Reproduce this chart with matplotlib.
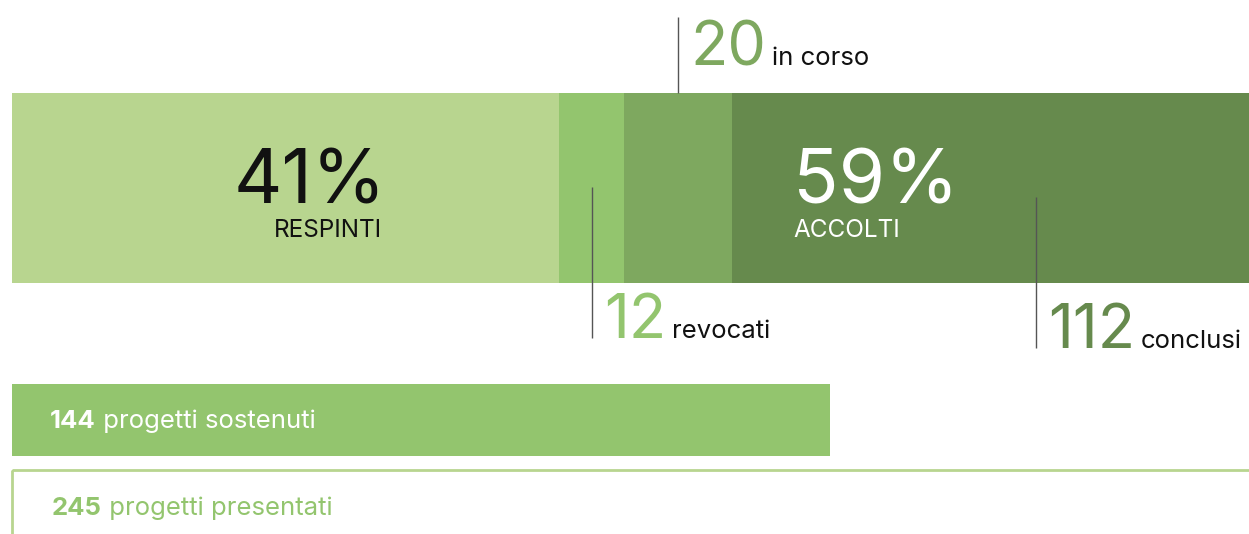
import matplotlib
matplotlib.use("Agg")
import matplotlib.pyplot as plt

plt.rcParams['font.family'] = ['Inter', 'DejaVu Sans']

# progetti per esito
esiti = ["respinti", "revocati", "in corso", "conclusi"]
valori = [101, 12, 20, 112]
colori = ["#b8d58f", "#93c56e", "#7ea85f", "#668a4d"]

presentati = 245
sostenuti = 144

W, H = 1249, 534
fig = plt.figure(figsize=(W / 100, H / 100), dpi=100)

# barra in percentuale (asse superiore), y in pixel
sc = 100 / 1327
ax_top = fig.add_axes([0, 0, 1, 1])
ax_top.set_xlim(-12 * sc, (W - 12) * sc)
ax_top.set_ylim(H, 0)
ax_top.axis("off")

# barre dei conteggi
ax_bot = fig.add_axes([0, 0, 1, 1])
ppu = 818 / sostenuti
ax_bot.set_xlim(-12 / ppu, (W - 12) / ppu)
ax_bot.set_ylim(H, 0)
ax_bot.axis("off")
ax_bot.patch.set_alpha(0)

totale = sum(valori)
perc = [v / totale * 100 for v in valori]
left = 0
centri = []
for p, c in zip(perc, colori):
    ax_top.barh(188, p, left=left, height=190, color=c, linewidth=0)
    centri.append(left + p / 2)
    left += p

pct_respinti = round(valori[0] / totale * 100)
pct_accolti = 100 - pct_respinti

ax_top.text(374 * sc, 203, f"{pct_respinti}%", ha="right", va="baseline",
            fontsize=54, color="#111111")
ax_top.text(370 * sc, 237, "RESPINTI", ha="right", va="baseline",
            fontsize=17.5, color="#111111")
ax_top.text(781 * sc, 203, f"{pct_accolti}%", ha="left", va="baseline",
            fontsize=54, color="white")
ax_top.text(781 * sc, 237, "ACCOLTI", ha="left", va="baseline",
            fontsize=17.5, color="white")

# linee di richiamo ed etichette
richiami = {
    "revocati": (centri[1], 187, 338, valori[1], colori[1]),
    "in corso": (centri[2], 17, 93, valori[2], colori[2]),
    "conclusi": (centri[3], 197, 348, valori[3], colori[3]),
}
for nome, (xc, y0, y1, v, col) in richiami.items():
    ax_top.plot([xc, xc], [y0, y1], color="#555555", lw=1.0, solid_capstyle="butt")
    yb = y1 if nome != "in corso" else 65
    num = ax_top.annotate(str(v), xy=(xc, yb), xytext=(9, 0), textcoords="offset points",
                          ha="left", va="baseline", fontsize=44, color=col)
    ax_top.annotate(nome, xy=(1, yb), xycoords=(num, "data"), xytext=(4, 0),
                    textcoords="offset points", ha="left", va="baseline",
                    fontsize=18.5, color="#111111")

# progetti sostenuti / presentati
ax_bot.barh(420, sostenuti, height=72, color="#93c56e", linewidth=0)
ax_bot.barh(515, presentati, height=90, facecolor="none", edgecolor="#b8d58f", linewidth=2)

t1 = ax_bot.text(38 / ppu, 428, str(sostenuti), ha="left", va="baseline",
                 fontsize=18.5, fontweight="bold", color="white")
ax_bot.annotate(" progetti sostenuti", xy=(1, 428), xycoords=(t1, "data"), ha="left",
                va="baseline", fontsize=18.5, color="white")
t2 = ax_bot.text(40 / ppu, 515, str(presentati), ha="left", va="baseline",
                 fontsize=18.5, fontweight="bold", color="#93c56e")
ax_bot.annotate(" progetti presentati", xy=(1, 515), xycoords=(t2, "data"), ha="left",
                va="baseline", fontsize=18.5, color="#93c56e")

fig.savefig("out.png", dpi=100)
